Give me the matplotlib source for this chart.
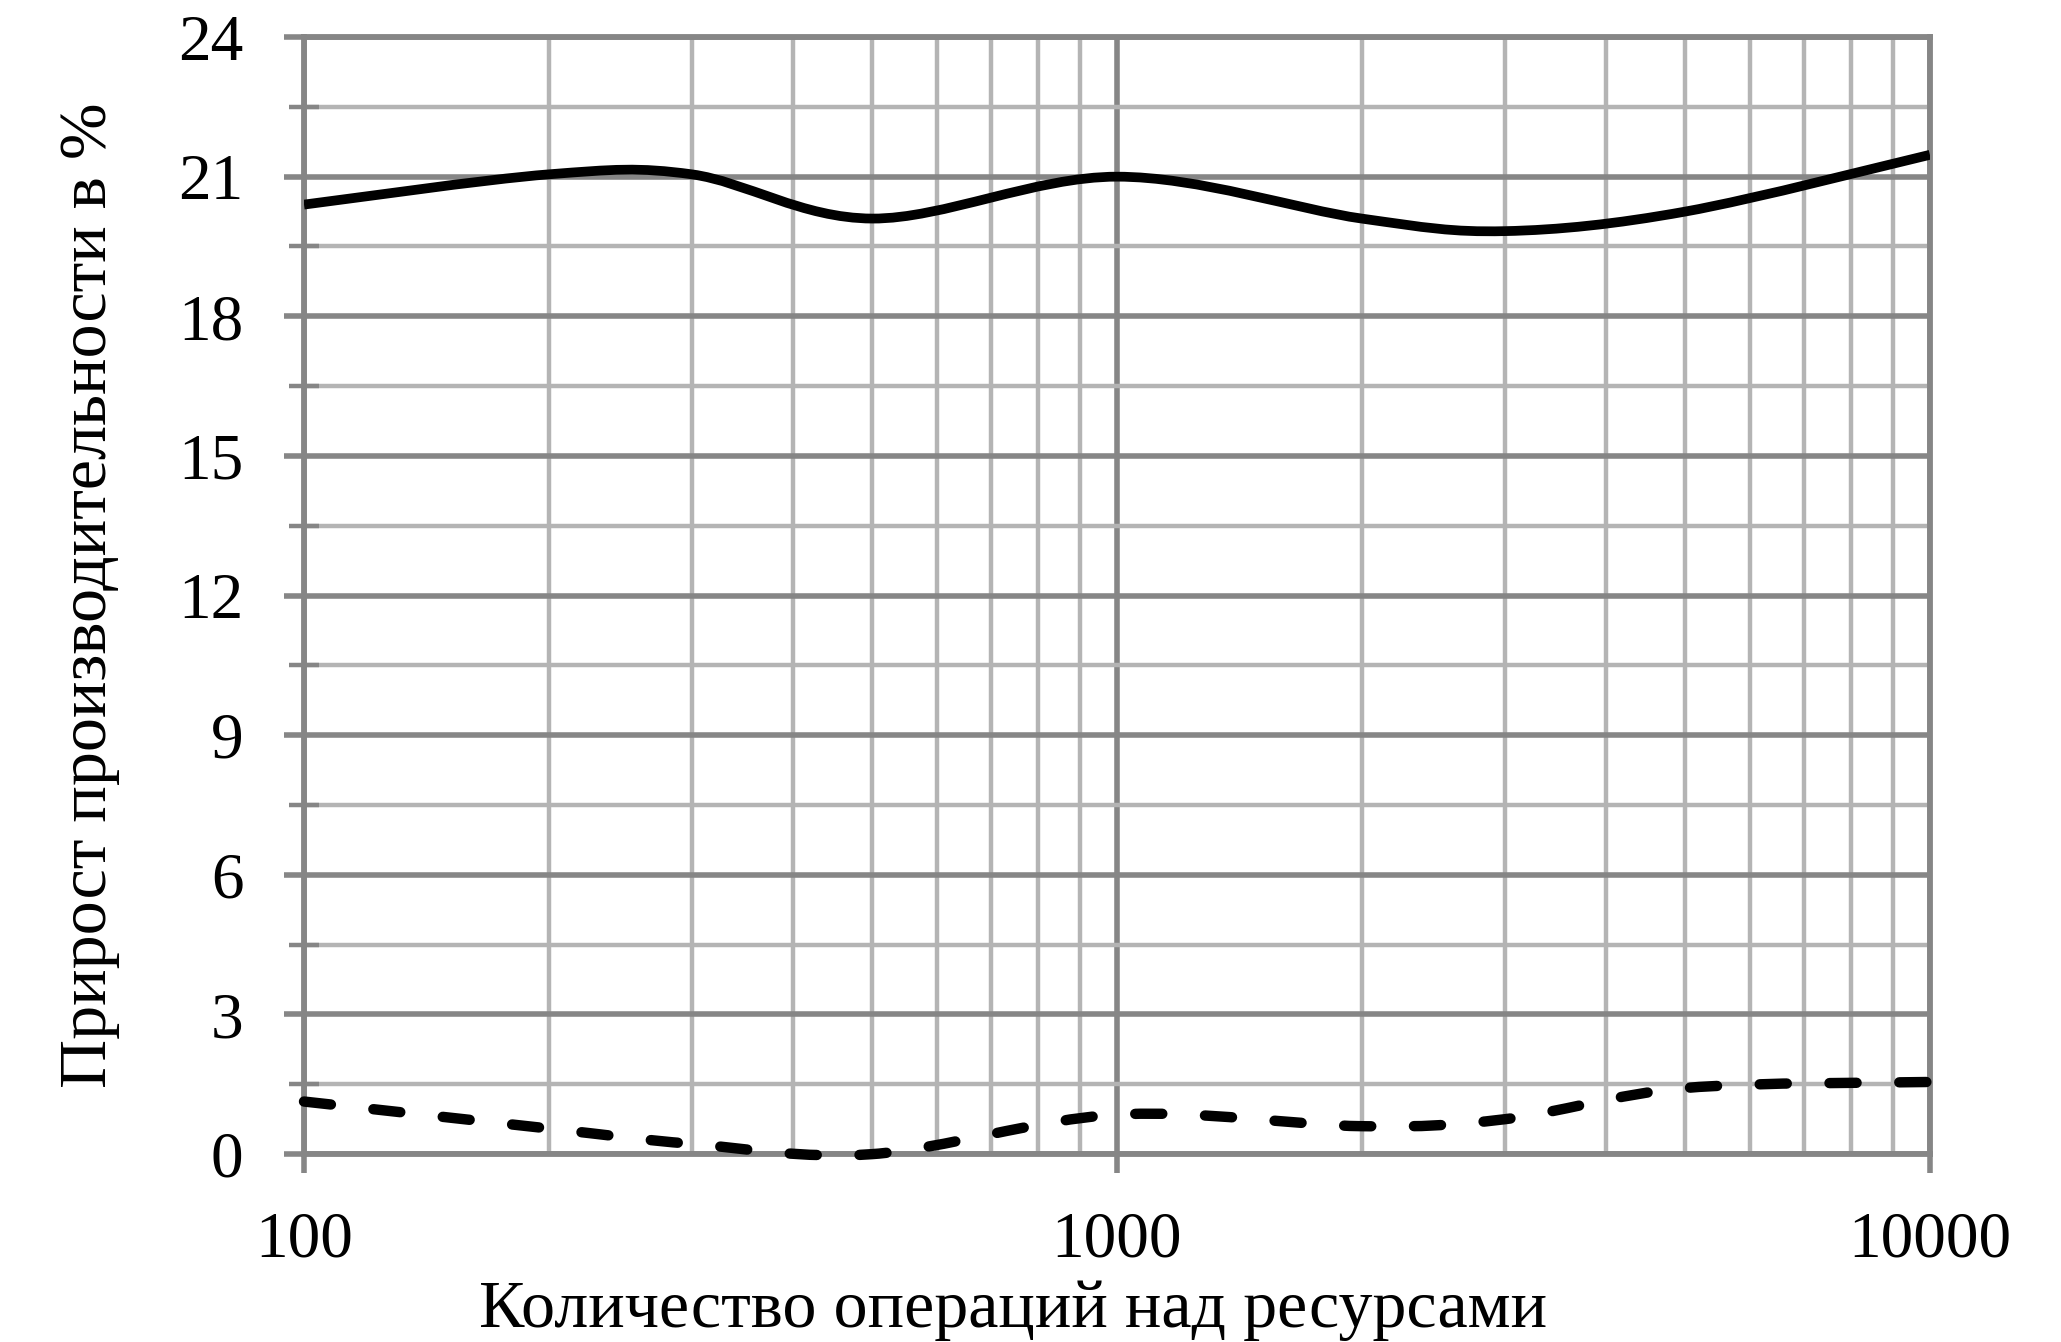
import numpy as np
import matplotlib
matplotlib.use('Agg')
import matplotlib.pyplot as plt
from matplotlib.path import Path
from matplotlib.patches import PathPatch
from matplotlib.ticker import FixedLocator, NullFormatter

# operations over resources (x) and performance gain in % (y)
ops = [100, 200, 300, 500, 1000, 2000, 3000, 5000, 10000]
gain_solid = [20.4, 21.05, 21.05, 20.1, 21.0, 20.1, 19.83, 20.25, 21.47]
gain_dashed = [1.13, 0.55, 0.22, 0.0, 0.85, 0.6, 0.75, 1.42, 1.55]

y_ticks = [0, 3, 6, 9, 12, 15, 18, 21, 24]
x_ticks = [100, 1000, 10000]
x_ticklabels = ['100', '1000', '10000']

MAJOR = '#868686'
MINOR = '#b4b4b4'

plt.rcParams['font.family'] = ['Liberation Serif', 'DejaVu Serif']


def smooth_path(xs, ys):
    # Excel-like smoothed line: Catmull-Rom segments as cubic Bezier (in log-x)
    lx = np.log10(xs)
    ys = np.asarray(ys, dtype=float)
    n = len(lx)
    verts = [(xs[0], ys[0])]
    codes = [Path.MOVETO]
    for i in range(n - 1):
        i0 = max(i - 1, 0)
        i3 = min(i + 2, n - 1)
        c1x = lx[i] + (lx[i + 1] - lx[i0]) / 6
        c1y = ys[i] + (ys[i + 1] - ys[i0]) / 6
        c2x = lx[i + 1] - (lx[i3] - lx[i]) / 6
        c2y = ys[i + 1] - (ys[i3] - ys[i]) / 6
        verts += [(10 ** c1x, c1y), (10 ** c2x, c2y), (xs[i + 1], ys[i + 1])]
        codes += [Path.CURVE4] * 3
    return Path(verts, codes)


fig = plt.figure(figsize=(20.61, 13.42), dpi=100)
ax = fig.add_axes([0.1475, 0.140, 0.7889, 0.8324])
ax.set_xscale('log')
ax.set_xlim(100, 10000)
ax.set_ylim(0, 24)

ax.add_patch(PathPatch(smooth_path(ops, gain_solid), fill=False,
                       edgecolor='black', linewidth=7, zorder=5,
                       capstyle='butt'))
ax.add_patch(PathPatch(smooth_path(ops, gain_dashed), fill=False,
                       edgecolor='black', linewidth=7.5, zorder=5,
                       linestyle=(0, (2.6, 4.1)), capstyle='round',
                       clip_on=False))

ax.xaxis.set_major_locator(FixedLocator(x_ticks))
ax.set_xticklabels(x_ticklabels)
ax.xaxis.set_minor_locator(FixedLocator(
    [m * d for d in (100, 1000) for m in range(2, 10)]))
ax.xaxis.set_minor_formatter(NullFormatter())
ax.yaxis.set_major_locator(FixedLocator(y_ticks))
ax.yaxis.set_minor_locator(FixedLocator([v + 1.5 for v in y_ticks[:-1]]))

ax.grid(which='major', color=MAJOR, linewidth=4.0)
ax.grid(which='minor', color=MINOR, linewidth=3.2)
ax.set_axisbelow(True)

for s in ax.spines.values():
    s.set_color(MAJOR)
    s.set_linewidth(4.2)

ax.tick_params(axis='y', which='major', direction='out', length=14.5,
               width=4.0, color=MAJOR, labelsize=47, pad=29)
ax.tick_params(axis='y', which='minor', direction='inout', length=22,
               width=3.2, color=MAJOR)
ax.tick_params(axis='x', which='major', direction='out', length=14,
               width=4.0, color=MAJOR, labelsize=47, pad=27)
ax.tick_params(axis='x', which='minor', length=0)

ax.set_xlabel('Количество операций над ресурсами', fontsize=49, va='center')
ax.set_ylabel('Прирост производительности в %', fontsize=49, va='center')
ax.xaxis.set_label_coords(0.436, -0.1397)
ax.yaxis.set_label_coords(-0.1322, 0.5)

fig.savefig('out.png', dpi=100)
